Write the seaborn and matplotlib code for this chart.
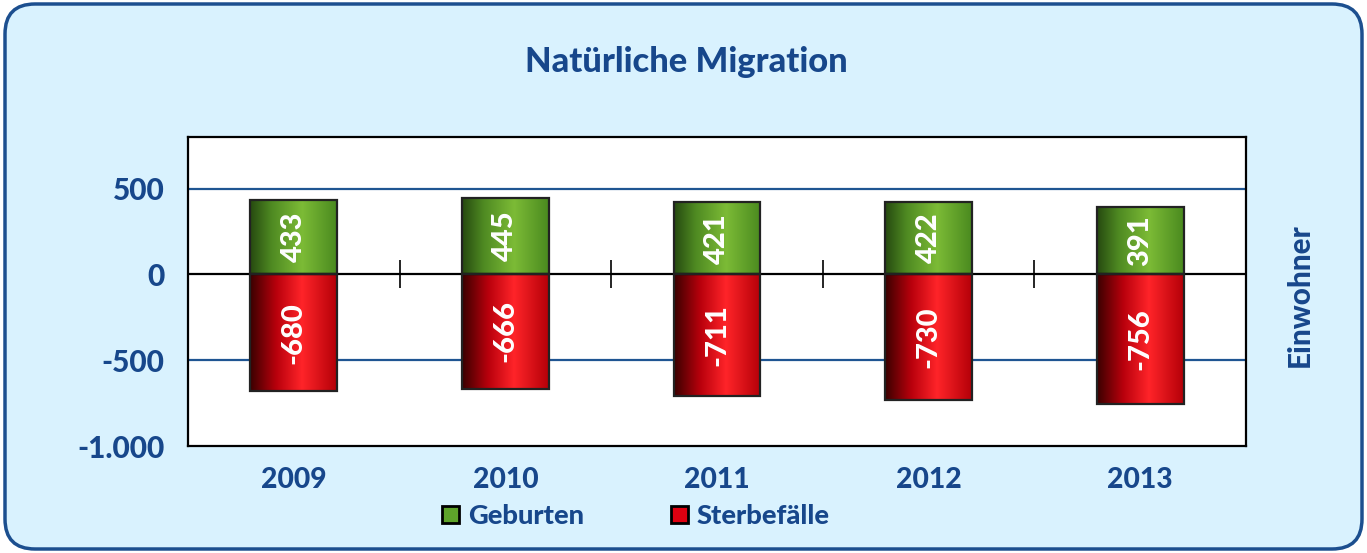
import numpy as np
import pandas as pd
import seaborn as sns
import matplotlib
matplotlib.use("Agg")
import matplotlib.pyplot as plt
from matplotlib.patches import FancyBboxPatch, Patch
from matplotlib.colors import LinearSegmentedColormap
from matplotlib.transforms import IdentityTransform

years = ["2009", "2010", "2011", "2012", "2013"]
geburten = [433, 445, 421, 422, 391]
sterbefaelle = [-680, -666, -711, -730, -756]
series_names = ["Geburten", "Sterbefälle"]
yticks = [-1000, -500, 0, 500]
title = "Natürliche Migration"
ylabel = "Einwohner"

TXT = "#17478b"
BG = "#d9f2fe"
FONT = "Lato"
W = 900

sns.set_theme(style="white")
plt.rcParams["font.family"] = [FONT, "DejaVu Sans"]

df = pd.DataFrame({
    "Jahr": years * 2,
    "Serie": [series_names[0]] * len(years) + [series_names[1]] * len(years),
    "Wert": geburten + sterbefaelle,
})

fig = plt.figure(figsize=(13.67, 5.53), dpi=100)
fig.patch.set_facecolor("white")
box = FancyBboxPatch((5, 4), 1357, 545, boxstyle="round,pad=0,rounding_size=30",
                     transform=IdentityTransform(), facecolor=BG, edgecolor="#1c4f8f",
                     linewidth=2.5, zorder=-10)
fig.patches.append(box)

ax = fig.add_axes([188 / 1367, 1 - 446 / 553, (1246 - 188) / 1367, (446 - 137) / 553])
ax.set_facecolor("white")
ax.set_axisbelow(True)

sns.barplot(data=df, x="Jahr", y="Wert", hue="Serie", dodge=False, width=0.41,
            palette={"Geburten": "#5ea32a", "Sterbefälle": "#e00010"},
            ax=ax, legend=False, errorbar=None, saturation=1)

cm_green = LinearSegmentedColormap.from_list("g", [(0, "#264a10"), (0.25, "#4f8a22"), (0.6, "#7cbb36"), (1, "#4a8a1f")])
cm_red = LinearSegmentedColormap.from_list("r", [(0, "#3a0000"), (0.3, "#b8000c"), (0.6, "#ff2429"), (1, "#b40008")])
grad = np.linspace(0, 1, 256).reshape(1, -1)

ax.set_ylim(-1000, 800)
ax.set_xlim(-0.5, len(years) - 0.5)

for p in ax.patches:
    x0, y0 = p.get_x(), p.get_y()
    w, h = p.get_width(), p.get_height()
    if h == 0:
        continue
    cmap = cm_green if h > 0 else cm_red
    ybot, ytop = min(y0, y0 + h), max(y0, y0 + h)
    im = ax.imshow(grad, cmap=cmap, aspect="auto", extent=[x0, x0 + w, ybot, ytop],
                   zorder=2, interpolation="bicubic")
    im.set_clip_path(p)
    p.set_facecolor("none")
    p.set_edgecolor("#222222")
    p.set_linewidth(1.6)
    p.set_zorder(3)
    ax.text(x0 + w / 2, (ybot + ytop) / 2, f"{int(round(h))}", rotation=90,
            ha="center", va="center", color="white", fontsize=21, fontweight=W,
            zorder=4)

ax.set_ylim(-1000, 800)
ax.set_xlim(-0.5, len(years) - 0.5)

for yv in [500, -500]:
    ax.axhline(yv, color="#1f5592", lw=1.6, zorder=0)
ax.axhline(0, color="black", lw=1.6, zorder=2.5)
ax.plot(np.arange(len(years) - 1) + 0.5, [0] * (len(years) - 1), linestyle="none",
        marker="|", markersize=20, markeredgewidth=1.2, color="black", zorder=2.5)

ax.set_yticks(yticks)
ax.set_yticklabels([f"{v:,}".replace(",", ".") for v in yticks])
ax.tick_params(axis="y", length=0, pad=17, labelsize=21.5, labelcolor=TXT)
ax.tick_params(axis="x", length=0, pad=15, labelsize=20.3, labelcolor=TXT)
for lab in ax.get_yticklabels() + ax.get_xticklabels():
    lab.set_fontweight(W)
ax.set_xlabel("")
ax.set_ylabel("")
for s in ax.spines.values():
    s.set_color("black")
    s.set_linewidth(1.6)
    s.set_visible(True)

fig.text(1300 / 1367, 1 - 295 / 553, ylabel, rotation=90, ha="center", va="center",
         color=TXT, fontsize=21.3, fontweight=W)
fig.text(686 / 1367, 1 - 62 / 553, title, ha="center", va="center",
         color=TXT, fontsize=24.8, fontweight=W)

handles = [Patch(facecolor="#5ea32a", edgecolor="black", linewidth=2),
           Patch(facecolor="#e00010", edgecolor="black", linewidth=2)]
leg = fig.legend(handles, series_names, loc="center", bbox_to_anchor=(636 / 1367, 1 - 516 / 553),
                 ncol=2, frameon=False, handlelength=0.62, handleheight=0.62, handletextpad=0.3,
                 columnspacing=3.2, prop={"family": FONT, "weight": W, "size": 19.7})
for t in leg.get_texts():
    t.set_color(TXT)

fig.savefig("out.png", dpi=100, facecolor="white")
